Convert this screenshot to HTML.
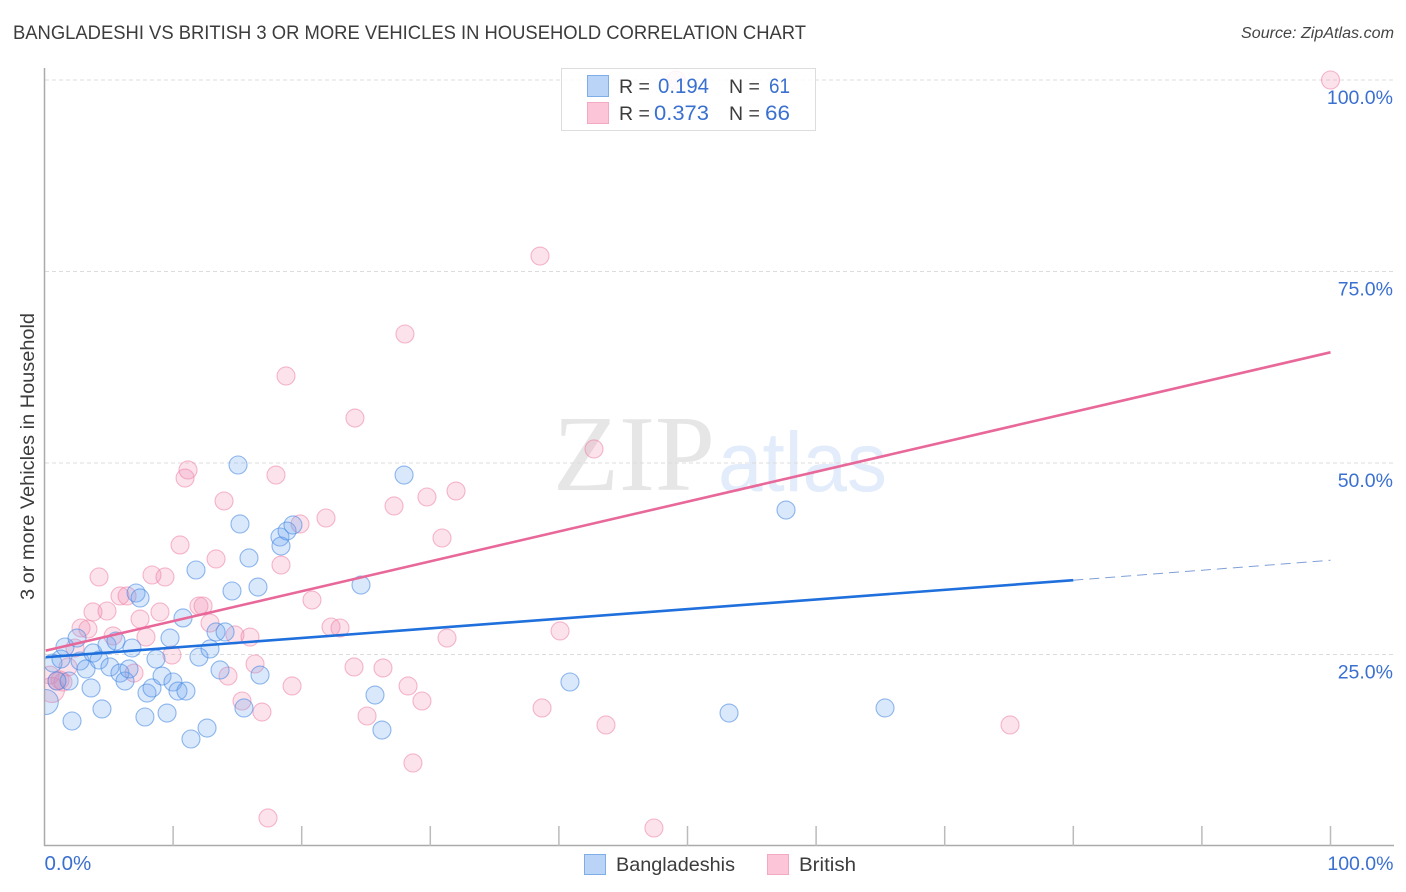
<!DOCTYPE html>
<html lang="en">
<head>
<meta charset="utf-8">
<title>Bangladeshi vs British 3 or More Vehicles in Household Correlation Chart</title>
<style>
html,body{margin:0;padding:0;background:#fff;}
svg{display:block;font-family:"Liberation Sans",sans-serif;}
</style>
</head>
<body>
<svg id="chart" xmlns="http://www.w3.org/2000/svg" width="1406" height="892" viewBox="0 0 1406 892">
  <defs>
    <clipPath id="plot-clip"><rect x="45" y="60" width="1361" height="786"/></clipPath>
  </defs>
  <rect width="1406" height="892" fill="#fff"/>
  <text x="13" y="39" font-size="19" fill="#3c3c3c" textLength="793" lengthAdjust="spacingAndGlyphs">BANGLADESHI VS BRITISH 3 OR MORE VEHICLES IN HOUSEHOLD CORRELATION CHART</text>
  <text x="1394" y="38" font-size="15.5" font-style="italic" fill="#444" text-anchor="end" textLength="153" lengthAdjust="spacingAndGlyphs">Source: ZipAtlas.com</text>
  <g>
    <text x="553" y="490" font-family="'Liberation Serif',serif" font-size="108" fill="#e6e6e6" textLength="162" lengthAdjust="spacingAndGlyphs">ZIP</text>
    <text x="718" y="491" font-size="84" fill="#e2ecfb" textLength="169" lengthAdjust="spacingAndGlyphs">atlas</text>
  </g>
  <g id="grid"></g>
  <g id="axes"></g>
  <g id="points-layer" clip-path="url(#plot-clip)"></g>
  <g id="lines"></g>
  <g>
    <rect x="561.5" y="68.5" width="254" height="62" fill="#fff" fill-opacity="0.85" stroke="#ddd" stroke-width="1"/>
    <rect x="587.5" y="75.5" width="21" height="21" fill="#b9d4f7" stroke="#7fade8"/>
    <rect x="587.5" y="102.5" width="21" height="21" fill="#fcc6d8" stroke="#f3a9c1"/>
    <g font-size="19.5" fill="#3c3c3c">
      <text x="619" y="93">R =</text>
      <text x="619" y="120">R =</text>
      <text x="729" y="93">N =</text>
      <text x="729" y="120">N =</text>
    </g>
    <g font-size="21" fill="#3a70d0">
      <text x="658" y="93" textLength="51" lengthAdjust="spacingAndGlyphs">0.194</text>
      <text x="654" y="120" textLength="55" lengthAdjust="spacingAndGlyphs">0.373</text>
      <text x="769" y="93" textLength="21" lengthAdjust="spacingAndGlyphs">61</text>
      <text x="765" y="120" textLength="25" lengthAdjust="spacingAndGlyphs">66</text>
    </g>
  </g>
  <g>
    <rect x="584.5" y="854.5" width="21" height="20" fill="#b9d4f7" stroke="#7fade8"/>
    <text x="616" y="871" font-size="19.5" fill="#3c3c3c" textLength="119" lengthAdjust="spacingAndGlyphs">Bangladeshis</text>
    <rect x="767.5" y="854.5" width="21" height="20" fill="#fcc6d8" stroke="#f3a9c1"/>
    <text x="799" y="871" font-size="19.5" fill="#3c3c3c" textLength="57" lengthAdjust="spacingAndGlyphs">British</text>
  </g>
  <text transform="translate(34,456.5) rotate(-90)" font-size="19" fill="#3c3c3c" text-anchor="middle" textLength="287" lengthAdjust="spacingAndGlyphs">3 or more Vehicles in Household</text>
</svg>
<script>
const yTicks = [25, 50, 75, 100];
const yTickLabels = ["25.0%", "50.0%", "75.0%", "100.0%"];
const xTicks = [10, 20, 30, 40, 50, 60, 70, 80, 90, 100];
const xEndTicks = [0, 100];
const xEndLabels = ["0.0%", "100.0%"];

const bangladeshiX = [0.66,0.97,1.28,1.59,1.91,2.14,2.53,2.76,3.23,3.62,3.77,4.24,4.47,4.86,5.09,5.56,5.87,6.26,6.57,6.8,7.12,7.43,7.81,7.97,8.36,8.67,9.14,9.53,9.76,9.99,10.38,10.77,11.0,11.39,11.78,12.01,12.64,12.87,13.34,13.65,14.04,14.58,15.05,15.2,15.51,15.9,16.6,16.76,18.31,18.39,18.86,19.32,24.61,25.7,26.24,27.96,40.86,53.23,57.66,65.36];
const bangladeshiY = [23.89,21.54,24.41,25.98,21.54,16.32,27.15,24.15,23.11,20.63,25.2,24.28,17.89,26.24,23.37,26.76,22.58,21.54,23.11,25.85,33.03,32.38,16.84,19.97,20.63,24.41,22.19,17.36,27.15,21.41,20.23,29.77,20.23,13.97,36.03,24.67,15.4,25.72,27.94,22.98,27.94,33.29,49.74,42.04,18.02,37.6,33.81,22.32,40.34,39.16,41.12,41.91,34.07,19.71,15.14,48.43,21.41,17.36,43.86,18.02];
const bangladeshiClusterX = [0.1];
const bangladeshiClusterY = [18.8];

const britishX = [0.43,0.97,1.21,1.44,1.83,2.37,2.84,3.38,3.77,4.24,4.86,5.33,5.87,6.42,6.96,7.43,7.89,8.36,8.98,9.37,9.91,10.54,10.93,11.16,12.01,12.33,12.87,13.34,13.96,14.27,14.81,15.36,15.98,16.37,16.91,17.38,18.0,18.39,18.78,19.25,19.87,20.8,21.89,22.28,22.98,24.14,24.07,25.08,26.32,27.18,28.03,28.27,28.65,29.35,29.74,30.91,31.3,32.0,38.53,38.69,40.09,42.73,43.66,47.39,49.11,75.08,100];
const britishY = [22.32,21.54,21.67,21.41,23.37,25.85,28.46,28.33,30.55,35.12,30.68,27.42,32.64,32.64,22.58,29.63,27.28,35.38,30.55,35.12,24.93,39.3,48.04,49.09,31.33,31.33,29.11,37.47,45.04,22.19,27.55,18.93,27.28,23.76,17.49,3.66,48.43,36.68,61.36,20.89,42.04,32.11,42.82,28.59,28.46,55.87,23.37,16.97,23.24,44.39,66.84,20.89,10.84,18.93,45.56,40.21,27.15,46.34,77.02,18.02,28.07,51.83,15.8,2.35,100,15.8,100];
const britishClusterX = [0.58];
const britishClusterY = [20.37];

const bangladeshiTrendX = [0.1, 80];
const bangladeshiTrendY = [24.65, 34.7];
const bangladeshiForecastX = [80, 100];
const bangladeshiForecastY = [34.7, 37.3];
const britishTrendX = [0.1, 100];
const britishTrendY = [25.5, 64.45];

const NS = "http://www.w3.org/2000/svg";
const xScale = v => 44.5 + v * 12.86;
const yScale = v => 846 - v * 7.66;

function svgEl(tag, attrs, parent) {
  const el = document.createElementNS(NS, tag);
  for (const k in attrs) el.setAttribute(k, attrs[k]);
  parent.appendChild(el);
  return el;
}

const grid = document.getElementById("grid");
const axes = document.getElementById("axes");
const layer = document.getElementById("points-layer");
const lines = document.getElementById("lines");

yTicks.forEach((t, i) => {
  const line = svgEl("line", {x1: 45, x2: 1394, y1: yScale(t), y2: yScale(t), stroke: "#dcdcdc", "stroke-width": 1, "stroke-dasharray": "4 3"}, grid);
  
  
  const label = svgEl("text", {x: 1393, y: yScale(t) + 24, "font-size": 19.5, fill: "#3a70d0", "text-anchor": "end"}, axes);
  label.textContent = yTickLabels[i];
  
  
});

const yAxis = svgEl("line", {x1: 44.5, x2: 44.5, y1: 68, y2: 846, stroke: "#aaa", "stroke-width": 1.5}, axes);


const xAxis = svgEl("line", {x1: 44, x2: 1394, y1: 845.5, y2: 845.5, stroke: "#aaa", "stroke-width": 1.5}, axes);



xTicks.forEach(t => {
  const tick = svgEl("line", {x1: xScale(t), x2: xScale(t), y1: 826, y2: 846, stroke: "#bbb", "stroke-width": 1.5}, axes);
  
  
});

xEndTicks.forEach((t, i) => {
  const label = svgEl("text", {x: t === 0 ? xScale(t) : xScale(t) + 63, y: 870, "font-size": t === 0 ? 20.5 : 19.5, fill: "#3a70d0", "text-anchor": t === 0 ? "start" : "end"}, axes);
  label.textContent = xEndLabels[i];
  
  
});

function drawSeries(xs, ys, r, fill, stroke, fillOpacity, strokeOpacity, name) {
  xs.forEach((x, i) => {
    const c = svgEl("circle", {cx: xScale(x), cy: yScale(ys[i]), r: r, fill: fill, "fill-opacity": fillOpacity, stroke: stroke, "stroke-opacity": strokeOpacity, "stroke-width": 1.1}, layer);
    
    
  });
}

drawSeries(britishClusterX, britishClusterY, 12.5, "#f08aae", "#ee7fa5", 0.25, 0.55, "british-point");
drawSeries(britishX, britishY, 9, "#f08aae", "#ee7fa5", 0.25, 0.55, "british-point");
drawSeries(bangladeshiClusterX, bangladeshiClusterY, 12.5, "#6aa4ee", "#4a8ae2", 0.25, 0.6, "bangladeshi-point");
drawSeries(bangladeshiX, bangladeshiY, 9, "#6aa4ee", "#4a8ae2", 0.25, 0.6, "bangladeshi-point");

const blueTrend = svgEl("line", {x1: xScale(bangladeshiTrendX[0]), x2: xScale(bangladeshiTrendX[1]), y1: yScale(bangladeshiTrendY[0]), y2: yScale(bangladeshiTrendY[1]), stroke: "#1f6fdc", "stroke-width": 2.6}, lines);


const blueForecast = svgEl("line", {x1: xScale(bangladeshiForecastX[0]), x2: xScale(bangladeshiForecastX[1]), y1: yScale(bangladeshiForecastY[0]), y2: yScale(bangladeshiForecastY[1]), stroke: "#7f9fd8", "stroke-width": 1, "stroke-dasharray": "10 6"}, lines);


const pinkTrend = svgEl("line", {x1: xScale(britishTrendX[0]), x2: xScale(britishTrendX[1]), y1: yScale(britishTrendY[0]), y2: yScale(britishTrendY[1]), stroke: "#e8689a", "stroke-width": 2.6}, lines);


</script>
</body>
</html>
